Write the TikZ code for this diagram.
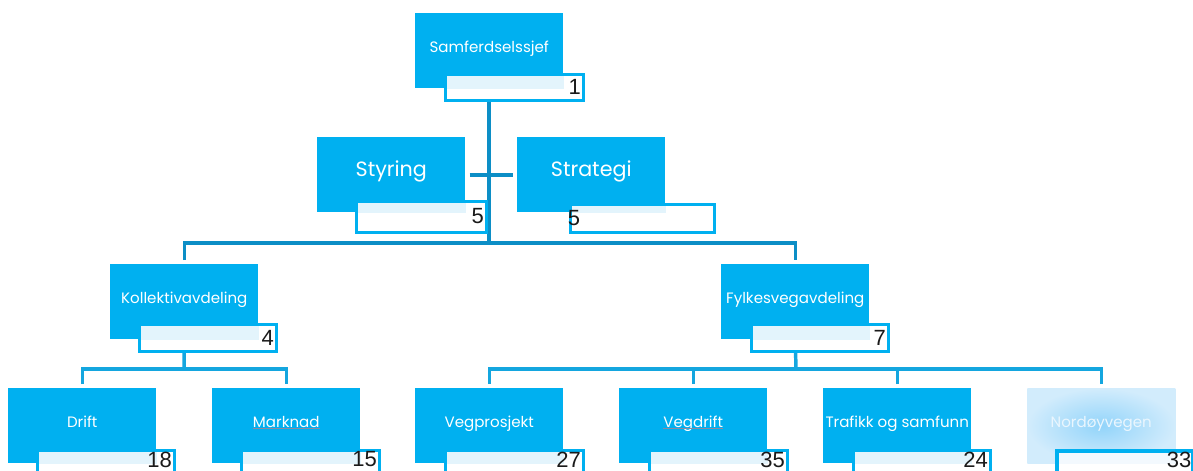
\documentclass[tikz,border=0pt]{standalone}
\usepackage{fontspec}
\setmainfont{Poppins}
\newfontfamily\numfont{Liberation Sans}
\definecolor{boxblue}{HTML}{00B0F0}
\definecolor{bandcol}{HTML}{E3F4FC}
\definecolor{bandpale}{HTML}{F3F9FE}
\definecolor{linedark}{HTML}{0C8EC6}
\definecolor{linelight}{HTML}{14A6DF}
\definecolor{numcol}{HTML}{1A1A1A}
\definecolor{spellcol}{HTML}{8E8A9E}
\definecolor{fadein}{HTML}{92D4FA}
\definecolor{fadeout}{HTML}{D2ECFC}
\definecolor{fadetext}{HTML}{EAF6FE}
\begin{document}
\begin{tikzpicture}[x=0.75pt,y=-0.75pt,
  bluebox/.style={fill=boxblue, draw=none, inner sep=0pt, anchor=north west,
    minimum width=111pt, minimum height=56.25pt},
  fadedbox/.style={draw=none, inner sep=0pt, anchor=north west,
    minimum width=111pt, minimum height=56.25pt,
    inner color=fadein, outer color=fadeout},
  lbl/.style={text=white, inner sep=0pt, anchor=base, yshift=-29.25pt,
    font=\fontsize{11.3}{13}\selectfont},
  biglbl/.style={lbl, font=\fontsize{15.5}{18}\selectfont},
  numbox/.style={draw=boxblue, line width=2.25pt, fill=white, inner sep=0pt, anchor=north west},
  nb/.style 2 args={minimum width=#1*0.75pt, minimum height=#2*0.75pt},
  band/.style={path picture={\fill[bandcol] (path picture bounding box.north west) rectangle (#1.south east);}},
  paleband/.style={path picture={\fill[bandpale] (path picture bounding box.north west) rectangle (#1.south east);}},
  num/.style={inner sep=0pt, anchor=east, xshift=-2.6pt, text=numcol,
    font=\numfont\fontsize{16.5}{19}\selectfont},
  numleft/.style={num, anchor=west, xshift=2pt},
  conn/.style={draw=linedark, line width=2.6pt},
  conn2/.style={draw=linelight, line width=2.6pt},
  spell/.style={draw=spellcol, line width=0.8pt}]

\useasboundingbox (0,0) rectangle (1193,471);

% junction points of the connector buses
\coordinate (j1) at (489,243);
\coordinate (j2) at (184,369);
\coordinate (j3) at (796,369);

% unit boxes
\node[bluebox] (sam) at (415,13) {};
\node[bluebox] (sty) at (317,137) {};
\node[bluebox] (str) at (517,137) {};
\node[bluebox] (kol) at (110,264) {};
\node[bluebox] (fyl) at (721,264) {};
\node[bluebox] (dri) at (8,388) {};
\node[bluebox] (mar) at (212,388) {};
\node[bluebox] (vpr) at (415,388) {};
\node[bluebox] (vdr) at (619,388) {};
\node[bluebox] (tra) at (823,388) {};
\node[fadedbox] (nor) at (1027,388) {};

% connectors (behind the number boxes)
\draw[conn] (sam.south -| j1) -- (j1);
\draw[conn, shorten <=3pt, shorten >=3pt] (sty.east) -- (str.west);
\draw[conn] ([yshift=3pt]kol.north) |- (j1) -| ([yshift=3pt]fyl.north);
\draw[conn2] (kol.south) -- (j2);
\draw[conn2] ([yshift=3pt]dri.north) |- (j2) -| ([yshift=3pt]mar.north);
\draw[conn2] (fyl.south) -- (j3);
\draw[conn2] ([yshift=3pt]vpr.north) |- (j3) -| ([yshift=3pt]nor.north);
\draw[conn2] ([yshift=3pt]vdr.north) -- (vdr.north |- j3);
\draw[conn2] ([yshift=3pt]tra.north) -- (tra.north |- j3);

% labels
\node[lbl] (samT) at (sam.north) {Samferdselssjef};
\node[biglbl] (styT) at (sty.north) {Styring};
\node[biglbl] (strT) at (str.north) {Strategi};
\node[lbl] (kolT) at (kol.north) {Kollektivavdeling};
\node[lbl] (fylT) at (fyl.north) {Fylkesvegavdeling};
\node[lbl] (driT) at (dri.north) {Drift};
\node[lbl] (marT) at (mar.north) {Marknad};
\node[lbl] (vprT) at (vpr.north) {Vegprosjekt};
\node[lbl] (vdrT) at (vdr.north) {Vegdrift};
\node[lbl] (traT) at (tra.north) {Trafikk og samfunn};
\node[lbl, text=fadetext] (norT) at (nor.north) {Nordøyvegen};
\draw[spell] ([yshift=-1.2pt]marT.base west) -- ([yshift=-1.2pt]marT.base east);
\draw[spell] ([yshift=-1.2pt]vdrT.base west) -- ([yshift=-1.2pt]vdrT.base east);

% number boxes
\node[numbox, nb={138}{26}, band=sam] (samN) at (443.5,72.5) {};
\node[numbox, nb={130}{31}, band=sty] (styN) at (354.5,199.5) {};
\node[numbox, nb={144}{28}, band=str] (strN) at (568.5,202.5) {};
\node[numbox, nb={137}{27}, band=kol] (kolN) at (137.5,322.5) {};
\node[numbox, nb={137}{27}, band=fyl] (fylN) at (749.5,322.5) {};
\node[numbox, nb={137}{27}, band=dri] (driN) at (35.5,448.5) {};
\node[numbox, nb={138}{27}, band=mar] (marN) at (239.5,448.5) {};
\node[numbox, nb={138}{27}, band=vpr] (vprN) at (443.5,448.5) {};
\node[numbox, nb={138}{27}, band=vdr] (vdrN) at (647.5,448.5) {};
\node[numbox, nb={137}{27}, band=tra] (traN) at (851.5,448.5) {};
\node[numbox, nb={136}{26}, line width=3pt, paleband=nor] (norN) at (1055,449) {};

% head counts
\node[num] (samV) at (samN.east) {1};
\node[num] (styV) at (styN.east) {5};
\node[numleft] (strV) at (strN.west) {5};
\node[num] (kolV) at (kolN.east) {4};
\node[num] (fylV) at (fylN.east) {7};
\node[num] (driV) at ([yshift=3pt]driN.east) {18};
\node[num] (marV) at ([yshift=3pt]marN.east) {15};
\node[num] (vprV) at ([yshift=3pt]vprN.east) {27};
\node[num] (vdrV) at ([yshift=3pt]vdrN.east) {35};
\node[num] (traV) at ([yshift=3pt]traN.east) {24};
\node[num] (norV) at ([yshift=3pt]norN.east) {33};
\end{tikzpicture}
\end{document}
